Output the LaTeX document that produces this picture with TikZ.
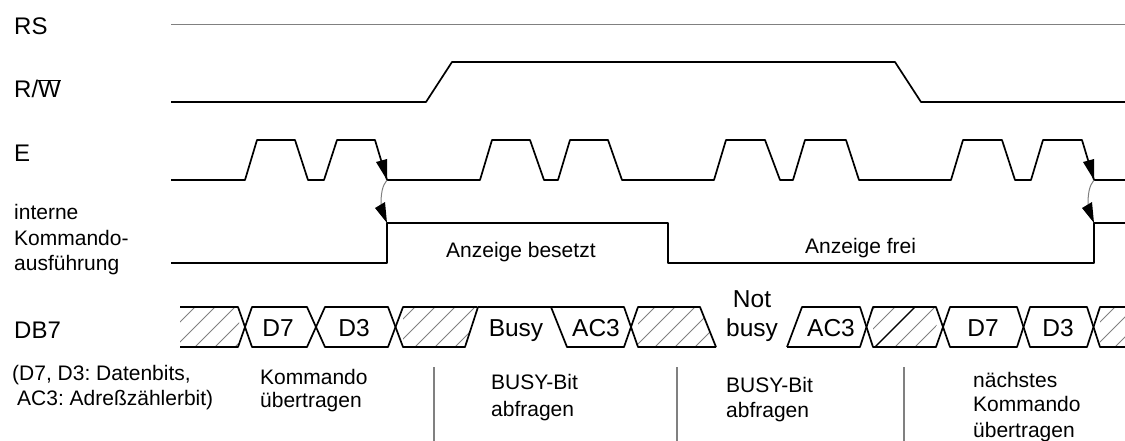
\documentclass[tikz,border=0pt]{standalone}
\usepackage{fontspec}
\setmainfont{Liberation Sans}
\usetikzlibrary{calc}
\frenchspacing
\tikzset{
 signal/.style={line width=1.7pt,line join=round},
 hatchline/.style={gray,line width=.9pt},
 sigtext/.style={anchor=base west,inner sep=0pt,font=\fontsize{24}{26}\selectfont},
 smalltext/.style={anchor=base west,inner sep=0pt,font=\fontsize{21}{26}\selectfont},
 bustext/.style={anchor=base,inner sep=0pt,font=\fontsize{24.5}{26}\selectfont},
}
\begin{document}
\begin{tikzpicture}[>=latex,x=1pt,y=-1pt]
\useasboundingbox (0,0) rectangle (1125,441);
% signal names
\node[sigtext] (rs) at (14,35){RS};
\node[sigtext] (rw) at (14,98){R/$\overline{\mbox{W}}$};
\node[sigtext] (e) at (14,162){E};
\node[smalltext] (int1) at (14,219){interne};
\node[smalltext] (int2) at (14,245){Kommando-};
\node[smalltext] (int3) at (14,270){ausführung};
\node[sigtext] (db) at (14,338){DB7};
% RS, R/W
\draw[gray,line width=1.2pt] (171,24.5)--(1125,24.5);
\draw[signal] (171,102)--(426,102)--(452,62)--(895,62)--(921,102)--(1125,102);
% E
\draw[signal] (171,180)--(245,180)--(257,140)--(295,140)--(308,180)--(324,180)--(337,140)--(375,140)--(387,180)
 --(480,180)--(492,140)--(530,140)--(544,180)--(558,180)--(570,140)--(608,140)--(622,180)
 --(714,180)--(726,140)--(765,140)--(780,180)--(793,180)--(805,140)--(846,140)--(859,180)
 --(951,180)--(963,140)--(1002,140)--(1015,180)--(1031,180)--(1043,140)--(1082,140)--(1094,180)--(1125,180);
% internal
\draw[signal] (171,263)--(387,263)--(387,223)--(668,223)--(668,263)--(1094,263)--(1094,223)--(1125,223);
% arrows
\foreach \px in {387,1094}{
 \coordinate (ea) at (\px,180);
 \coordinate (ia) at (\px,223);
 \fill ($(ea)+(-11,-18)$)--(ea)--($(ea)+(0,-21)$)--cycle;
 \draw[gray,line width=1pt] (ea) .. controls ($(ea)+(-5,6)$) and ($(ea)+(-6,14)$) .. ($(ia)+(-6,-18)$);
 \fill ($(ia)+(-12,-15)$)--(ia)--($(ia)+(-2,-21)$)--cycle;
}
% hatched parts of DB7
\foreach \xa/\xb/\xc/\xd in {180/240/238/180,403/477/465/403,638/700/716/638,873/937/936/873,1100/1125/1125/1100}{
 \begin{scope}
 \clip (\xa,307)--(\xb,307)--(\xc,347)--(\xd,347)--cycle;
 \foreach \h in {-3,...,50}{
  \draw[hatchline] (135+20*\h,347)--(175+20*\h,307);
 }
 \draw[line width=1.2pt] (875,347)--(915,307);
 \end{scope}
}
% DB7 bus
\draw[signal] (180,307)--(238,307)--(252,347)--(307,347)--(325,307)--(388,307)--(403,347)--(465,347)--(478,307)--(551,307)--(567,347)--(624,347)--(638,307)--(700,307)--(716,347)
 (787,347)--(802,307)--(860,307)--(873,347)--(936,347)--(950,307)--(1017,307)--(1030,347)--(1087,347)--(1100,307)--(1125,307);
\draw[signal] (180,347)--(238,347)--(252,307)--(307,307)--(325,347)--(388,347)--(403,307)--(477,307)
 (465,347)--(403,347) (551,307)--(624,307)--(638,347)--(716,347)
 (787,347)--(860,347)--(873,307)--(936,307)--(950,347)--(1017,347)--(1030,307)--(1087,307)--(1100,347)--(1125,347);
\node[bustext] (d7a) at (278,336){D7};
\node[bustext] (d3a) at (354,336){D3};
\node[bustext] (busy) at (516,336){Busy};
\node[bustext] (ac3a) at (596,336){AC3};
\node[bustext] (not) at (752,307){Not};
\node[bustext] (nbusy) at (752,336){busy};
\node[bustext] (ac3b) at (831,336){AC3};
\node[bustext] (d7b) at (983,336){D7};
\node[bustext] (d3b) at (1058,336){D3};
% labels in the chart
\node[smalltext] (besetzt) at (446,257){Anzeige besetzt};
\node[smalltext] (frei) at (805,253){Anzeige frei};
% phases
\node[smalltext] (leg1) at (12,380){(D7, D3: Datenbits,};
\node[smalltext] (leg2) at (17,405){AC3: Adreßzählerbit)};
\node[smalltext] (ph1a) at (260,384){Kommando};
\node[smalltext] (ph1b) at (260,407){übertragen};
\node[smalltext] (ph2a) at (491,389){BUSY-Bit};
\node[smalltext] (ph2b) at (491,416){abfragen};
\node[smalltext] (ph3a) at (726,392){BUSY-Bit};
\node[smalltext] (ph3b) at (726,417){abfragen};
\node[smalltext] (ph4a) at (973,387){nächstes};
\node[smalltext] (ph4b) at (973,411){Kommando};
\node[smalltext] (ph4c) at (973,437){übertragen};
\foreach \px in {434,677,904}{
 \draw[gray,line width=1.2pt] (\px,367)--(\px,441);
}
\end{tikzpicture}
\end{document}
